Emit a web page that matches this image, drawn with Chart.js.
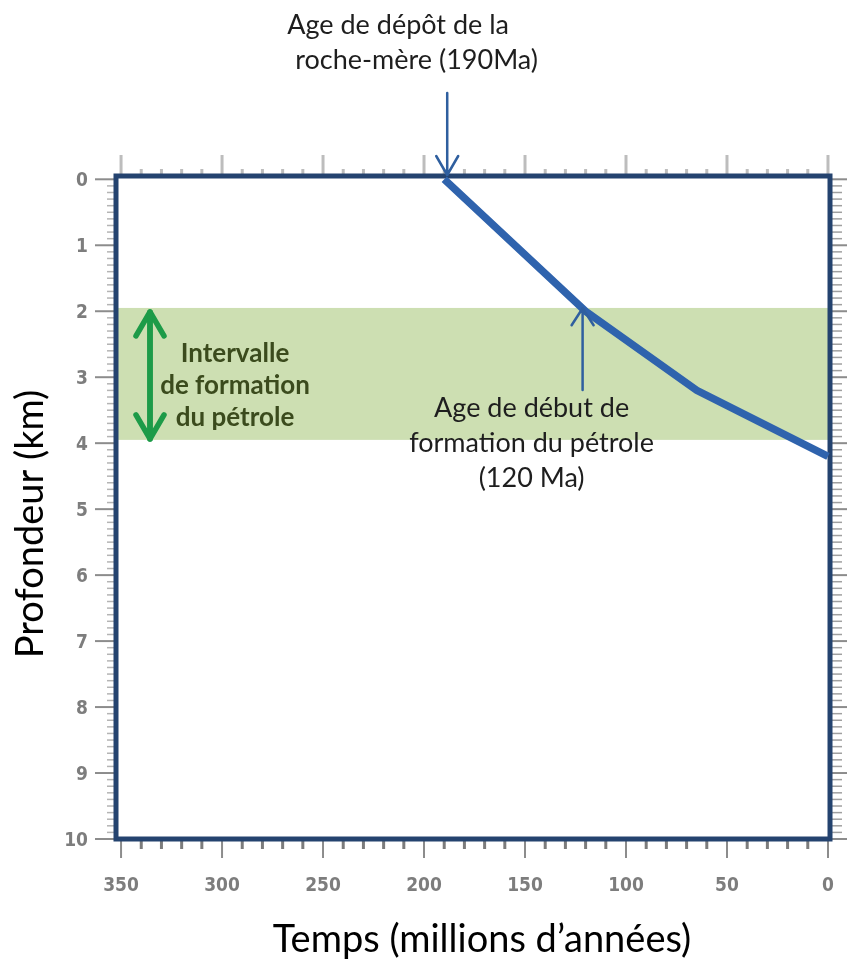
<!DOCTYPE html>
<html>
<head>
<meta charset="utf-8">
<script src="https://cdn.jsdelivr.net/npm/chart.js@4.4.1/dist/chart.umd.min.js"></script>
<style>
  html, body { margin: 0; padding: 0; background: #fff; }
</style>
</head>
<body>
<canvas id="burialChart" width="851" height="965"></canvas>
<script>
// burial curve of the source rock
const ages = [190, 120, 65, 0];        // Ma
const depths = [0, 2.0, 3.2, 4.2];     // km
const timeTicks = [350, 300, 250, 200, 150, 100, 50, 0];
const depthTicks = [0, 1, 2, 3, 4, 5, 6, 7, 8, 9, 10];
const oilWindow = [1.95, 3.95];        // km, oil formation interval
const depositAge = 190;                // Ma
const onsetAge = 120;                  // Ma

const depositLabel = ['Age de dépôt de la', 'roche-mère (190Ma)'];
const onsetLabel = ['Age de début de', 'formation du pétrole', '(120 Ma)'];
const windowLabel = ['Intervalle', 'de formation', 'du pétrole'];

const FONT = 'Lato, "Open Sans", sans-serif';
const TICK_FONT = { family: '"DejaVu Sans Condensed", "DejaVu Sans", sans-serif', size: 19, weight: 'bold' };

function arrow(ctx, x, yFrom, yTo, color, width, arm, spread) {
  const dir = yTo > yFrom ? 1 : -1;
  ctx.strokeStyle = color;
  ctx.lineWidth = width;
  ctx.beginPath();
  ctx.moveTo(x, yFrom);
  ctx.lineTo(x, yTo);
  ctx.moveTo(x - spread, yTo - dir * arm);
  ctx.lineTo(x, yTo);
  ctx.lineTo(x + spread, yTo - dir * arm);
  ctx.stroke();
}

const decor = {
  id: 'decor',
  beforeDatasetsDraw(chart) {
    const { ctx, chartArea: a, scales: { x, y } } = chart;
    ctx.save();

    // A) oil window band
    const yt = y.getPixelForValue(oilWindow[0]);
    const yb = y.getPixelForValue(oilWindow[1]);
    ctx.fillStyle = '#cddfb2';
    ctx.fillRect(a.left, yt, a.right - a.left, yb - yt);

    // B) tick marks round the frame
    ctx.lineCap = 'butt';
    for (let i = 0; i <= 100; i++) {
      const py = y.getPixelForValue(i / 10);
      const major = i % 10 === 0;
      ctx.strokeStyle = major ? '#8c8c8c' : '#b4b4b4';
      ctx.lineWidth = major ? 2 : 1.5;
      ctx.beginPath();
      ctx.moveTo(a.left - (major ? 21 : 9), py);
      ctx.lineTo(a.left - 2, py);
      ctx.stroke();
      // right side is denser and darker
      ctx.strokeStyle = major ? '#8c8c8c' : '#a0a0a0';
      ctx.beginPath();
      ctx.moveTo(a.right + 2, py);
      ctx.lineTo(a.right + (major ? 17 : 12), py);
      ctx.stroke();
    }
    for (let t = 0; t <= 350; t += 10) {
      const px = x.getPixelForValue(t);
      const major = t % 50 === 0;
      ctx.strokeStyle = major ? '#8c8c8c' : '#7c7c7c';
      ctx.lineWidth = major ? 2 : 3;
      ctx.beginPath();
      ctx.moveTo(px, a.bottom + 2);
      ctx.lineTo(px, a.bottom + (major ? 19 : 10));
      ctx.stroke();
      ctx.strokeStyle = '#bdbdbd';
      ctx.lineWidth = 3;
      ctx.beginPath();
      ctx.moveTo(px, a.top - (major ? 21 : 7));
      ctx.lineTo(px, a.top - 2);
      ctx.stroke();
    }

    // C) frame
    ctx.strokeStyle = '#24436f';
    ctx.lineWidth = 5;
    ctx.strokeRect(a.left, a.top, a.right - a.left, a.bottom - a.top);
    ctx.restore();
  },
  afterDatasetsDraw(chart) {
    const { ctx, chartArea: a, scales: { x, y } } = chart;
    ctx.save();
    ctx.lineCap = 'round';
    ctx.lineJoin = 'round';

    // arrow to the deposit age
    const xd = x.getPixelForValue(depositAge);
    arrow(ctx, xd + 3, 93, a.top - 1, '#2f5f9f', 2.5, 19, 11);

    // arrow up to the start of oil formation
    const xo = x.getPixelForValue(onsetAge);
    arrow(ctx, xo - 3, 390, y.getPixelForValue(2.0) - 3, '#2f5f9f', 2.5, 17, 11);

    // green double arrow on the oil window
    const ga = a.left + 34;
    const g0 = y.getPixelForValue(oilWindow[0]) + 4;
    const g1 = y.getPixelForValue(oilWindow[1]) - 1;
    arrow(ctx, ga, g1, g0, '#1d9b48', 5.5, 24, 14);
    arrow(ctx, ga, g0, g1, '#1d9b48', 5.5, 24, 14);

    // texts
    ctx.textBaseline = 'middle';
    ctx.fillStyle = '#1e1e1e';
    ctx.font = '27px ' + FONT;
    ctx.textAlign = 'left';
    ctx.fillText(depositLabel[0], xd - 157, 25);
    ctx.fillText(depositLabel[1], xd - 149, 60);

    ctx.textAlign = 'center';
    onsetLabel.forEach((s, i) => ctx.fillText(s, xo - 54, 408 + i * 35));

    ctx.fillStyle = '#3b4b1d';
    ctx.font = 'bold 26px ' + FONT;
    windowLabel.forEach((s, i) => ctx.fillText(s, a.left + 119, 354 + i * 32));

    // axis titles
    ctx.fillStyle = '#000';
    ctx.font = '38px ' + FONT;
    ctx.fillText('Temps (millions d’années)', 482, 940);
    ctx.translate(31, 524);
    ctx.rotate(-Math.PI / 2);
    ctx.fillText('Profondeur (km)', 0, 0);
    ctx.restore();
  }
};

new Chart(document.getElementById('burialChart'), {
  type: 'scatter',
  data: {
    datasets: [{
      data: ages.map((a, i) => ({ x: a, y: depths[i] })),
      showLine: true,
      borderColor: '#2f63ad',
      borderWidth: 7.5,
      pointRadius: 0,
      clip: false,
      tension: 0
    }]
  },
  options: {
    responsive: false,
    animation: false,
    devicePixelRatio: 1,
    layout: { padding: { top: 176, right: 21, left: 0, bottom: 0 } },
    plugins: { legend: { display: false }, tooltip: { enabled: false } },
    scales: {
      x: {
        type: 'linear',
        reverse: true,
        min: -1,
        max: 352.5,
        afterFit: s => { s.height = 126; },
        afterBuildTicks: s => { s.ticks = timeTicks.map(v => ({ value: v })); },
        grid: { display: false, drawTicks: true, tickLength: 36 },
        border: { display: false },
        ticks: { padding: 0, color: '#7d7d7d', font: TICK_FONT }
      },
      y: {
        type: 'linear',
        reverse: true,
        min: -0.05,
        max: 10,
        afterFit: s => { s.width = 116; },
        afterBuildTicks: s => { s.ticks = depthTicks.map(v => ({ value: v })); },
        grid: { display: false, drawTicks: true, tickLength: 28 },
        border: { display: false },
        ticks: { padding: 0, labelOffset: 2, color: '#7d7d7d', font: TICK_FONT }
      }
    }
  },
  plugins: [decor]
});
</script>
</body>
</html>
